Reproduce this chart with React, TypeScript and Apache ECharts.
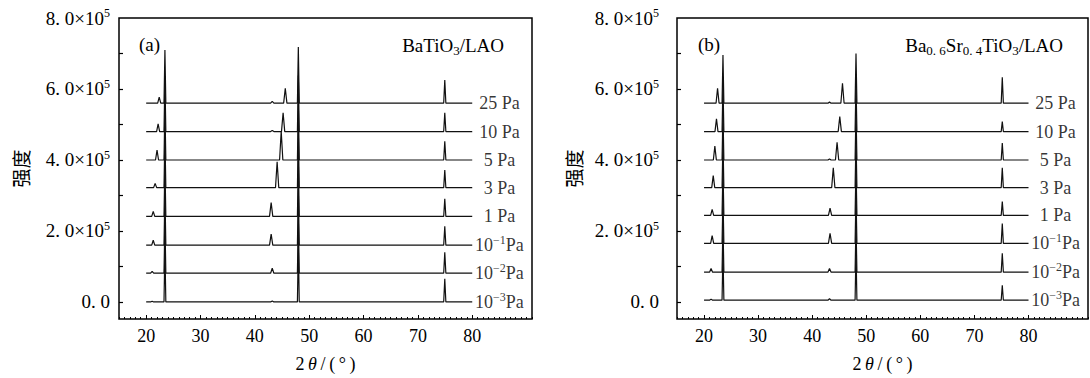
import React, { useEffect, useRef } from "react";
import * as echarts from "echarts";

// ---- data (intensities in units of 1e5) ----
const xTickValues = [20, 30, 40, 50, 60, 70, 80];
const yLabelValues = [0, 2e5, 4e5, 6e5, 8e5];
const yTickValues = [0, 1e5, 2e5, 3e5, 4e5, 5e5, 6e5, 7e5];

// curves listed top -> bottom
const pressureLabels = [
  "25 Pa",
  "10 Pa",
  "5 Pa",
  "3 Pa",
  "1 Pa",
  "10{sup|−1}Pa",
  "10{sup|−2}Pa",
  "10{sup|−3}Pa",
];

// panel (a) BaTiO3/LAO
const offsetsA = [5.6, 4.8, 4.0, 3.22, 2.41, 1.6, 0.81, 0.0];
const film100PosA = [22.4, 22.2, 22.0, 21.65, 21.3, 21.3, 21.1, 21.1];
const film100HtA = [0.17, 0.22, 0.28, 0.12, 0.14, 0.14, 0.05, 0.02];
const film200PosA = [45.6, 45.2, 44.85, 44.1, 43.0, 43.0, 43.2, 43.2];
const film200HtA = [0.42, 0.53, 0.81, 0.73, 0.39, 0.31, 0.14, 0.03];
const lao100PosA = [23.45, 23.45, 23.45, 23.45, 23.45, 23.45, 23.45, 23.45];
const lao100HtA = [1.5, 1.5, 1.5, 1.5, 1.5, 1.5, 1.5, 1.5];
const lao200PosA = [48.0, 48.0, 48.0, 48.0, 48.0, 48.0, 48.0, 48.0];
const lao200HtA = [1.58, 1.58, 1.58, 1.58, 1.58, 1.58, 1.58, 1.58];
const lao300PosA = [74.95, 74.95, 74.95, 74.95, 74.95, 74.95, 74.95, 74.95];
const lao300HtA = [0.65, 0.53, 0.53, 0.5, 0.5, 0.53, 0.59, 0.65];
const weakPosA = [43.2, 43.2, 43.2, 43.2, 43.2, 43.2, 43.2, 43.2];
const weakHtA = [0.05, 0.03, 0, 0, 0, 0, 0, 0];

// panel (b) Ba0.6Sr0.4TiO3/LAO
const offsetsB = [5.6, 4.8, 4.0, 3.22, 2.44, 1.65, 0.84, 0.05];
const film100PosB = [22.5, 22.3, 22.0, 21.7, 21.5, 21.5, 21.3, 21.3];
const film100HtB = [0.42, 0.36, 0.39, 0.34, 0.17, 0.22, 0.1, 0.03];
const film200PosB = [45.6, 45.1, 44.6, 43.9, 43.3, 43.3, 43.2, 43.2];
const film200HtB = [0.56, 0.42, 0.5, 0.56, 0.2, 0.28, 0.1, 0.04];
const lao100PosB = [23.5, 23.5, 23.5, 23.5, 23.5, 23.5, 23.5, 23.5];
const lao100HtB = [1.36, 1.36, 1.36, 1.36, 1.36, 1.36, 1.36, 1.36];
const lao200PosB = [48.1, 48.1, 48.1, 48.1, 48.1, 48.1, 48.1, 48.1];
const lao200HtB = [1.4, 1.4, 1.4, 1.4, 1.4, 1.4, 1.4, 1.4];
const lao300PosB = [75.15, 75.15, 75.15, 75.15, 75.15, 75.15, 75.15, 75.15];
const lao300HtB = [0.73, 0.28, 0.48, 0.56, 0.39, 0.56, 0.53, 0.42];
const weakPosB = [43.2, 43.2, 43.2, 43.2, 43.2, 43.2, 43.2, 43.2];
const weakHtB = [0.03, 0, 0.03, 0, 0, 0, 0, 0];

const scanStart = 20;
const scanEnd = 80;
const labelX = 85.0;
const UNIT = 1e5;

const SERIF = '"Liberation Serif", "DejaVu Serif", serif';
const CJK = '"Noto Sans CJK SC", sans-serif';

type Peak = [number, number, number];

function buildCurve(base: number, peaks: Peak[]): number[][] {
  const sorted = peaks.filter((p) => p[1] > 0).sort((a, b) => a[0] - b[0]);
  const pts: number[][] = [[scanStart, base]];
  for (const [p, h, w] of sorted) {
    pts.push([p - w, base], [p, base + h], [p + w, base]);
  }
  pts.push([scanEnd, base]);
  return pts.map(([x, y]) => [x, y * UNIT]);
}

function panelCurves(
  offsets: number[],
  f100p: number[], f100h: number[],
  l100p: number[], l100h: number[],
  f200p: number[], f200h: number[],
  l200p: number[], l200h: number[],
  l300p: number[], l300h: number[],
  wp: number[], wh: number[]
) {
  return offsets.map((b, i) =>
    buildCurve(b, [
      [f100p[i], f100h[i], 0.28],
      [l100p[i], l100h[i], 0.17],
      [f200p[i], f200h[i], 0.3],
      [l200p[i], l200h[i], 0.17],
      [l300p[i], l300h[i], 0.2],
      [wp[i], wh[i], 0.3],
    ])
  );
}

const curvesA = panelCurves(
  offsetsA, film100PosA, film100HtA, lao100PosA, lao100HtA, film200PosA, film200HtA,
  lao200PosA, lao200HtA, lao300PosA, lao300HtA, weakPosA, weakHtA
);
const curvesB = panelCurves(
  offsetsB, film100PosB, film100HtB, lao100PosB, lao100HtB, film200PosB, film200HtB,
  lao200PosB, lao200HtB, lao300PosB, lao300HtB, weakPosB, weakHtB
);

const minorTicks: number[] = [];
for (let v = 15; v <= 91; v++) minorTicks.push(v);

const supRich = {
  sup: { fontSize: 12, fontFamily: SERIF, color: "#000", verticalAlign: "top", lineHeight: 12 },
  sub: { fontSize: 13, fontFamily: SERIF, color: "#000", verticalAlign: "bottom", lineHeight: 12 },
  i: { fontSize: 18, fontFamily: SERIF, fontStyle: "italic", color: "#000", lineHeight: 22 },
  n: { fontSize: 18, fontFamily: SERIF, color: "#000", lineHeight: 22 },
};

const yRich = {
  sup: { fontSize: 12, fontFamily: SERIF, color: "#000", verticalAlign: "top", lineHeight: 12 },
  n: { fontSize: 19, fontFamily: SERIF, color: "#000", lineHeight: 22 },
};

function yFormatter(v: number) {
  if (v === 0) return "{n|0. 0}";
  return "{n|" + v / UNIT + ". 0×10}{sup|5}";
}

function App() {
  const ref = useRef<HTMLDivElement>(null);
  useEffect(() => {
    if (!ref.current) return;
    const chart = echarts.init(ref.current, null, { renderer: "svg" });
    const grids = [
      { left: 119, top: 18, width: 413, height: 302 },
      { left: 677, top: 18, width: 411, height: 302 },
    ].map((g) => ({ ...g, show: true, borderColor: "#000", borderWidth: 1.5, backgroundColor: "transparent" }));

    const xAxes: any[] = [];
    const yAxes: any[] = [];
    [0, 1].forEach((gi) => {
      xAxes.push({
        type: "value",
        gridIndex: gi,
        position: "bottom",
        min: 15,
        max: 91,
        axisLine: { show: false, onZero: false },
        splitLine: { show: false },
        axisTick: { show: true, inside: true, length: 4, customValues: xTickValues, lineStyle: { color: "#000", width: 1 } },
        axisLabel: { customValues: xTickValues, margin: 8, fontFamily: SERIF, fontSize: 18, color: "#000" },
        name: "{n|2\u2009}{i|θ}{n|\u2009/\u2009(\u2009°\u2009)}",
        nameLocation: "middle",
        nameGap: 34,
        nameTextStyle: { rich: supRich },
      });
      xAxes.push({
        type: "value",
        gridIndex: gi,
        position: "bottom",
        min: 15,
        max: 91,
        axisLine: { show: false, onZero: false },
        splitLine: { show: false },
        axisTick: { show: true, inside: true, length: 2, customValues: minorTicks, lineStyle: { color: "#000", width: 1 } },
        axisLabel: { show: false, customValues: minorTicks },
      });
      yAxes.push({
        type: "value",
        gridIndex: gi,
        position: "left",
        min: -48000,
        max: 800000,
        axisLine: { show: false, onZero: false },
        splitLine: { show: false },
        axisTick: { show: true, inside: true, length: 4, customValues: yTickValues, lineStyle: { color: "#000", width: 1.2 } },
        axisLabel: {
          customValues: yLabelValues,
          margin: gi === 0 ? 9 : 18,
          formatter: yFormatter,
          rich: yRich,
        },
        name: "强度",
        nameLocation: "middle",
        nameGap: gi === 0 ? 89 : 94,
        nameTextStyle: { fontFamily: CJK, fontSize: 19, color: "#000" },
      });
    });

    const series: any[] = [];
    const addPanel = (curves: number[][][], offsets: number[], gi: number) => {
      curves.forEach((d) => {
        series.push({
          type: "line",
          xAxisIndex: gi * 2,
          yAxisIndex: gi,
          data: d,
          showSymbol: false,
          symbol: "none",
          silent: true,
          lineStyle: { color: "#111", width: 1.2 },
          z: 2,
        });
      });
      series.push({
        type: "scatter",
        xAxisIndex: gi * 2,
        yAxisIndex: gi,
        symbolSize: 1,
        itemStyle: { color: "transparent" },
        silent: true,
        data: offsets.map((b) => [labelX, b * UNIT]),
        label: {
          show: true,
          position: "inside",
          formatter: (p: any) => "{n|" + pressureLabels[p.dataIndex].replace("{sup|", "}{sup|").replace("}Pa", "}{n|Pa") + "}",
          rich: supRich,
        },
      });
    };
    addPanel(curvesA, offsetsA, 0);
    addPanel(curvesB, offsetsB, 1);

    const titleStyle = { fontFamily: SERIF, fontSize: 19, fontWeight: "normal", color: "#000", rich: {
      n: { fontSize: 19, fontFamily: SERIF, color: "#000", lineHeight: 24 },
      sub: { fontSize: 13, fontFamily: SERIF, color: "#000", verticalAlign: "bottom", lineHeight: 14 },
    } };

    chart.setOption({
      animation: false,
      backgroundColor: "#fff",
      title: [
        { text: "{n|(a)}", left: 134, top: 27, textStyle: titleStyle },
        { text: "{n|BaTiO}{sub|3}{n|/LAO}", right: 581, top: 28, textStyle: titleStyle },
        { text: "{n|(b)}", left: 693, top: 27, textStyle: titleStyle },
        { text: "{n|Ba}{sub|0. 6}{n|Sr}{sub|0. 4}{n|TiO}{sub|3}{n|/LAO}", right: 22, top: 28, textStyle: titleStyle },
      ],
      grid: grids,
      xAxis: xAxes,
      yAxis: yAxes,
      series,
    });
    return () => chart.dispose();
  }, []);
  return <div ref={ref} style={{ position: "absolute", left: 0, top: 0, width: 1090, height: 378 }} />;
}

export default App;
